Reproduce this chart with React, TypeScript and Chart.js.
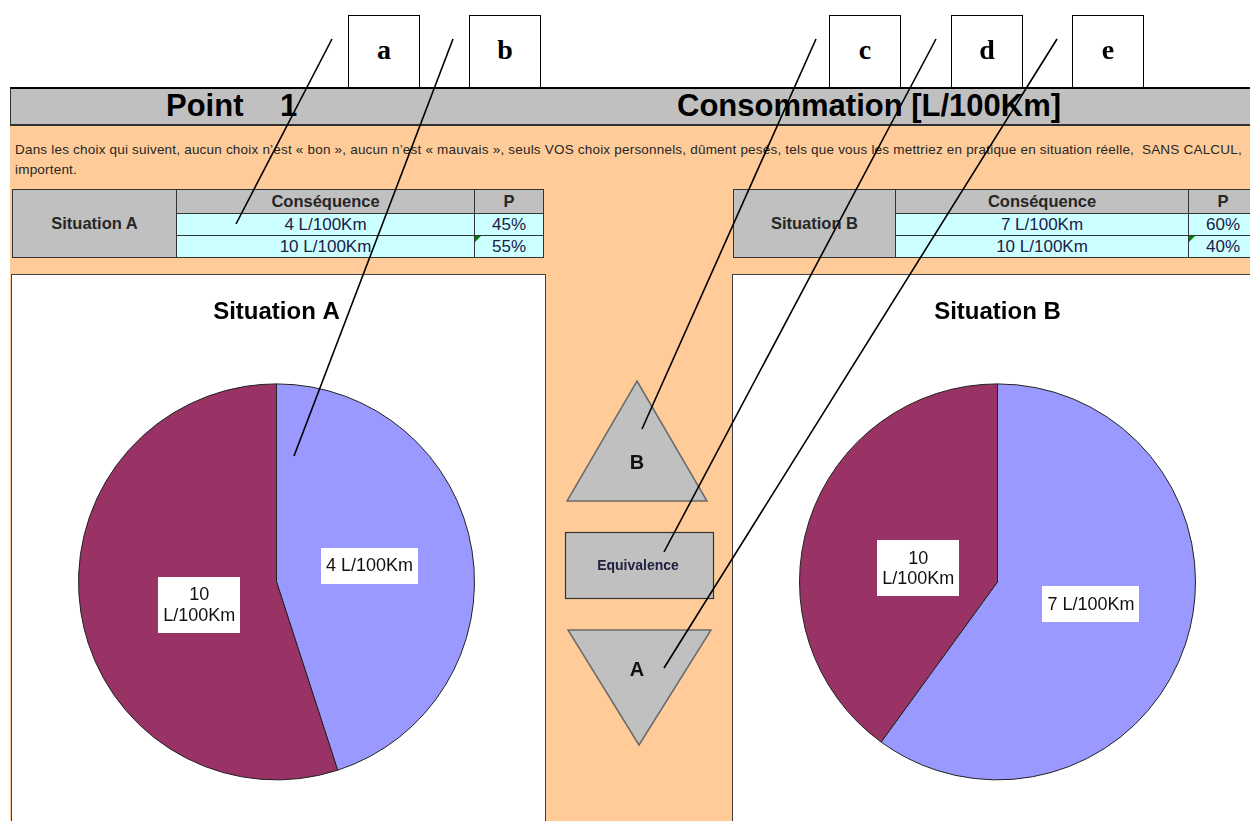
import React, { useEffect, useRef } from "react";
import { Chart, registerables } from "chart.js";

Chart.register(...registerables);

// ---- data ----
const pieATitle = "Situation A";
const pieALabels = ["4 L/100Km", "10 L/100Km"];
const pieAValues = [45, 55];

const pieBTitle = "Situation B";
const pieBLabels = ["7 L/100Km", "10 L/100Km"];
const pieBValues = [60, 40];

const sliceColors = ["#9999FF", "#993366"];

const tableAConsequences = ["4 L/100Km", "10 L/100Km"];
const tableAProbabilities = ["45%", "55%"];
const tableBConsequences = ["7 L/100Km", "10 L/100Km"];
const tableBProbabilities = ["60%", "40%"];

const annotationLetters = ["a", "b", "c", "d", "e"];

const headerLeft = "Point";
const headerNumber = "1";
const headerRight = "Consommation [L/100Km]";
const introLine1 =
  "Dans les choix qui suivent, aucun choix n’est « bon », aucun n’est « mauvais », seuls VOS choix personnels, dûment pesés, tels que vous les mettriez en pratique en situation réelle,  SANS CALCUL, ";
const introLine2 = "importent.";

const SANS = "'Liberation Sans', Arial, sans-serif";
const SERIF = "'Liberation Serif', 'Times New Roman', serif";

// ---- plugin: white boxed labels inside slices ----
const boxLabelPlugin = {
  id: "boxLabels",
  afterDatasetsDraw(chart: any, _args: any, opts: any) {
    const ctx = chart.ctx as CanvasRenderingContext2D;
    const meta = chart.getDatasetMeta(0);
    const labels = chart.data.labels as string[];
    const nudges: number[][] = (opts && opts.nudges) || [];
    ctx.save();
    ctx.font = `18px ${SANS}`;
    ctx.textAlign = "center";
    ctx.textBaseline = "middle";
    meta.data.forEach((arc: any, i: number) => {
      const p = arc.getProps(["x", "y", "startAngle", "endAngle", "outerRadius"], true);
      const text = String(labels[i]);
      let lines = [text];
      if (ctx.measureText(text).width > 90) {
        const k = text.indexOf(" ");
        lines = [text.slice(0, k), text.slice(k + 1)];
      }
      const mid = (p.startAngle + p.endAngle) / 2;
      const factor = lines.length > 1 ? 0.41 : 0.47;
      const nd = nudges[i] || [0, 0];
      const cx = p.x + Math.cos(mid) * p.outerRadius * factor + nd[0];
      const cy = p.y + Math.sin(mid) * p.outerRadius * factor + nd[1];
      const lh = 20.5;
      const w = Math.max(...lines.map((l) => ctx.measureText(l).width)) + 10;
      const h = lines.length * lh + 15;
      ctx.fillStyle = "#FFFFFF";
      ctx.fillRect(Math.round(cx - w / 2), Math.round(cy - h / 2), Math.round(w), Math.round(h));
      ctx.fillStyle = "#111111";
      lines.forEach((l, j) => {
        ctx.fillText(l, cx, cy - ((lines.length - 1) * lh) / 2 + j * lh + 1);
      });
    });
    ctx.restore();
  },
};

const CANVAS_W = 533;
const CANVAS_H = 546;

function PieBox({
  left, title, labels, values, nudges,
}: { left: number; title: string; labels: string[]; values: number[]; nudges: number[][] }) {
  const ref = useRef<HTMLCanvasElement | null>(null);
  useEffect(() => {
    if (!ref.current) return;
    const chart = new Chart(ref.current, {
      type: "pie",
      data: {
        labels,
        datasets: [
          {
            data: values,
            backgroundColor: sliceColors,
            borderColor: "#222222",
            borderWidth: 1,
            hoverOffset: 0,
          },
        ],
      },
      options: {
        responsive: false,
        animation: false,
        devicePixelRatio: 1,
        layout: { padding: { left: 66, right: CANVAS_W - 66 - 397, top: 0, bottom: CANVAS_H - 108.4 - 397 } },
        plugins: {
          legend: { display: false },
          tooltip: { enabled: false },
          title: {
            display: true,
            text: title,
            color: "#000000",
            font: { family: SANS, size: 24, weight: "bold", lineHeight: 1.2 },
            padding: { top: 22.6, bottom: 57 },
          },
          boxLabels: { nudges },
        } as any,
      },
      plugins: [boxLabelPlugin],
    });
    return () => chart.destroy();
  }, [title, labels, values, nudges]);
  return (
    <div
      style={{
        position: "absolute",
        left,
        top: 274,
        width: CANVAS_W,
        height: 580,
        background: "#FFFFFF",
        border: "1px solid #404040",
      }}
    >
      <canvas ref={ref} width={CANVAS_W} height={CANVAS_H} style={{ position: "absolute", left: 0, top: 0 }} />
    </div>
  );
}

function Cell({
  x, y, w, h, bg, text, bold, size, color,
}: { x: number; y: number; w: number; h: number; bg: string; text: string; bold?: boolean; size: number; color: string }) {
  return (
    <div
      style={{
        position: "absolute",
        left: x,
        top: y,
        width: w,
        height: h,
        boxSizing: "border-box",
        border: "1px solid #333333",
        background: bg,
        display: "flex",
        alignItems: "center",
        justifyContent: "center",
        fontFamily: SANS,
        fontWeight: bold ? "bold" : "normal",
        fontSize: size,
        color,
        whiteSpace: "nowrap",
        lineHeight: 1,
      }}
    >
      {text}
    </div>
  );
}

function SituationTable({
  x, name, wName, wCons, wP, cons, probs,
}: { x: number; name: string; wName: number; wCons: number; wP: number; cons: string[]; probs: string[] }) {
  const gray = "#C0C0C0";
  const cyan = "#CCFFFF";
  const txt = "#202048";
  const xc = x + wName - 1;
  const xp = xc + wCons - 1;
  return (
    <>
      <Cell x={x} y={189} w={wName} h={69} bg={gray} text={name} bold size={16.5} color="#262626" />
      <Cell x={xc} y={189} w={wCons} h={25} bg={gray} text="Conséquence" bold size={16.5} color="#262626" />
      <Cell x={xp} y={189} w={wP} h={25} bg={gray} text="P" bold size={16.5} color="#262626" />
      {cons.map((c, i) => (
        <React.Fragment key={i}>
          <Cell x={xc} y={213 + i * 22} w={wCons} h={23} bg={cyan} text={c} size={17} color={txt} />
          <Cell x={xp} y={213 + i * 22} w={wP} h={23} bg={cyan} text={probs[i]} size={17} color={txt} />
        </React.Fragment>
      ))}
      <svg style={{ position: "absolute", left: xp + 1, top: 236, width: 8, height: 8 }}>
        <polygon points="0,0 6,0 0,6" fill="#008000" />
      </svg>
    </>
  );
}

const boxXs = [348, 469, 829, 951, 1072];
const lineStarts = [
  [332, 39],
  [453, 39],
  [816, 39],
  [936, 39],
  [1057, 39],
];
const lineEnds = [
  [236, 224],
  [294, 456],
  [642, 429],
  [664, 552],
  [664, 668],
];

const nudgesA = [
  [1, -2],
  [3, 10],
];
const nudgesB = [
  [5, -7],
  [-2, 11],
];

export default function App() {
  return (
    <div
      style={{
        position: "absolute",
        left: 0,
        top: 0,
        width: 1250,
        height: 821,
        overflow: "hidden",
        background: "#FFFFFF",
        fontFamily: SANS,
      }}
    >
      {/* orange sheet background */}
      <div style={{ position: "absolute", left: 10, top: 125, width: 1260, height: 720, background: "#FFCC99" }} />

      {/* header bar */}
      <div
        style={{
          position: "absolute",
          left: 10,
          top: 87,
          width: 1260,
          height: 39,
          boxSizing: "border-box",
          background: "#C0C0C0",
          borderTop: "2px solid #000000",
          borderBottom: "2px solid #303030",
          borderLeft: "1px solid #303030",
        }}
      />
      <div style={{ position: "absolute", left: 166, top: 88, height: 35, lineHeight: "35px", fontSize: 31, fontWeight: "bold", color: "#000" }}>
        {headerLeft}
      </div>
      <div style={{ position: "absolute", left: 280, top: 88, height: 35, lineHeight: "35px", fontSize: 31, fontWeight: "bold", color: "#000" }}>
        {headerNumber}
      </div>
      <div style={{ position: "absolute", left: 677, top: 88, height: 35, lineHeight: "35px", fontSize: 31, fontWeight: "bold", color: "#000", whiteSpace: "nowrap" }}>
        {headerRight}
      </div>

      {/* intro text */}
      <div
        style={{
          position: "absolute",
          left: 15,
          top: 140,
          width: 1300,
          fontSize: 13.5,
          letterSpacing: 0.2,
          lineHeight: "20px",
          color: "#262626",
          whiteSpace: "pre",
        }}
      >
        {introLine1}
        {"\n"}
        {introLine2}
      </div>

      {/* tables */}
      <SituationTable x={12} name="Situation A" wName={165} wCons={299} wP={70} cons={tableAConsequences} probs={tableAProbabilities} />
      <SituationTable x={733} name="Situation B" wName={163} wCons={294} wP={70} cons={tableBConsequences} probs={tableBProbabilities} />

      {/* charts */}
      <PieBox left={11} title={pieATitle} labels={pieALabels} values={pieAValues} nudges={nudgesA} />
      <PieBox left={732} title={pieBTitle} labels={pieBLabels} values={pieBValues} nudges={nudgesB} />

      {/* middle buttons */}
      <svg style={{ position: "absolute", left: 0, top: 0, width: 1250, height: 821 }}>
        <polygon points="637,381 707,501 567,501" fill="#C0C0C0" stroke="#6a6a6a" strokeWidth={1.5} />
        <text x={637} y={469} textAnchor="middle" fontFamily={SANS} fontWeight="bold" fontSize={20} fill="#111">
          B
        </text>
        <rect x={565.5} y={532.5} width={148} height={66} fill="#C0C0C0" stroke="#333" strokeWidth={1.2} />
        <text x={638} y={570} textAnchor="middle" fontFamily={SANS} fontWeight="bold" fontSize={14} fill="#202040">
          Equivalence
        </text>
        <polygon points="568,630 711,630 639,745" fill="#C0C0C0" stroke="#6a6a6a" strokeWidth={1.5} />
        <text x={637} y={676} textAnchor="middle" fontFamily={SANS} fontWeight="bold" fontSize={20} fill="#111">
          A
        </text>
      </svg>

      {/* annotation boxes */}
      {annotationLetters.map((l, i) => (
        <div
          key={l}
          style={{
            position: "absolute",
            left: boxXs[i],
            top: 15,
            width: 72,
            height: 73,
            boxSizing: "border-box",
            border: "1px solid #000",
            background: "#FFF",
            display: "flex",
            alignItems: "center",
            justifyContent: "center",
            fontFamily: SERIF,
            fontWeight: "bold",
            fontSize: 28,
            color: "#000",
            paddingBottom: 4,
          }}
        >
          {l}
        </div>
      ))}

      {/* annotation lines */}
      <svg style={{ position: "absolute", left: 0, top: 0, width: 1250, height: 821, pointerEvents: "none" }}>
        {lineStarts.map((s, i) => (
          <line key={i} x1={s[0]} y1={s[1]} x2={lineEnds[i][0]} y2={lineEnds[i][1]} stroke="#000" strokeWidth={1.6} />
        ))}
      </svg>
    </div>
  );
}
